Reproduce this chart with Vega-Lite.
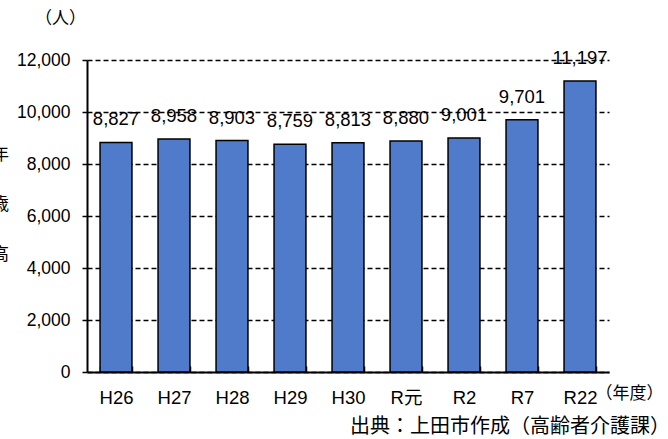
{
  "$schema": "https://vega.github.io/schema/vega-lite/v6.json",
  "autosize": {"type": "none"},
  "width": 522,
  "height": 312,
  "padding": {"left": 87, "top": 60, "right": 59, "bottom": 67},
  "background": "white",
  "config": {
    "view": {"stroke": null},
    "font": "Liberation Sans",
    "axis": {"labelFont": "Liberation Sans, Noto Sans CJK JP", "titleFont": "Noto Sans CJK JP"}
  },
  "title": {
    "text": "出典：上田市作成（高齢者介護課）",
    "orient": "bottom",
    "anchor": "end",
    "frame": "group",
    "font": "Noto Sans CJK JP",
    "fontSize": 20,
    "fontWeight": "normal",
    "color": "#000000",
    "dx": 61,
    "offset": 10
  },
  "data": {
    "values": [
      {"year": "H26", "value": 8827},
      {"year": "H27", "value": 8958},
      {"year": "H28", "value": 8903},
      {"year": "H29", "value": 8759},
      {"year": "H30", "value": 8813},
      {"year": "R元", "value": 8880},
      {"year": "R2", "value": 9001},
      {"year": "R7", "value": 9701},
      {"year": "R22", "value": 11197}
    ]
  },
  "encoding": {
    "x": {
      "field": "year",
      "type": "nominal",
      "sort": null,
      "scale": {"paddingInner": 0.45, "paddingOuter": 0.225},
      "axis": {
        "title": "（年度）",
        "titleFontSize": 17,
        "titleFontWeight": "normal",
        "titleColor": "#000000",
        "titleAnchor": "start",
        "titleAlign": "left",
        "titleBaseline": "middle",
        "titleX": 508,
        "titleY": 21,
        "labelAngle": 0,
        "labelFontSize": 18.5,
        "labelColor": "#000000",
        "labelPadding": 22,
        "domainColor": "#000000",
        "domainWidth": 2,
        "tickColor": "#000000",
        "tickWidth": 1.5,
        "tickSize": -6,
        "tickBand": "extent"
      }
    }
  },
  "layer": [
    {
      "mark": {"type": "bar", "fill": "#4F7BCA", "stroke": "#000000", "strokeWidth": 1.5},
      "encoding": {
        "y": {
          "field": "value",
          "type": "quantitative",
          "scale": {"domain": [0, 12000]},
          "axis": {
            "values": [0, 2000, 4000, 6000, 8000, 10000, 12000],
            "format": ",d",
            "title": "（人）",
            "titleFont": "Noto Sans CJK JP",
            "titleFontSize": 17,
            "titleFontWeight": "normal",
            "titleColor": "#000000",
            "titleAngle": 0,
            "titleAlign": "center",
            "titleBaseline": "middle",
            "titleX": -27,
            "titleY": -42,
            "labelFontSize": 17.5,
            "labelColor": "#000000",
            "labelPadding": 12,
            "domainColor": "#000000",
            "domainWidth": 2,
            "tickColor": "#000000",
            "tickSize": 5,
            "tickWidth": 1.5,
            "grid": true,
            "gridColor": "#000000",
            "gridDash": [5, 3],
            "gridWidth": 1.3
          }
        }
      }
    },
    {
      "mark": {"type": "text", "baseline": "bottom", "dy": -13, "fontSize": 18.5, "font": "Liberation Sans", "color": "#000000"},
      "encoding": {
        "y": {
          "field": "value",
          "type": "quantitative",
          "scale": {"domain": [0, 12000]},
          "axis": {
            "orient": "right",
            "title": ["年", "歳", "高"],
            "titleFont": "Noto Sans CJK JP",
            "titleFontSize": 17,
            "titleFontWeight": "normal",
            "titleColor": "#000000",
            "titleAngle": 0,
            "titleAlign": "center",
            "titleBaseline": "middle",
            "titleLineHeight": 50,
            "titleX": -609,
            "titleY": 94,
            "labels": false,
            "ticks": false,
            "domain": false,
            "grid": false
          }
        },
        "text": {"field": "value", "type": "quantitative", "format": ",d"}
      }
    }
  ],
  "resolve": {"axis": {"y": "independent"}}
}
